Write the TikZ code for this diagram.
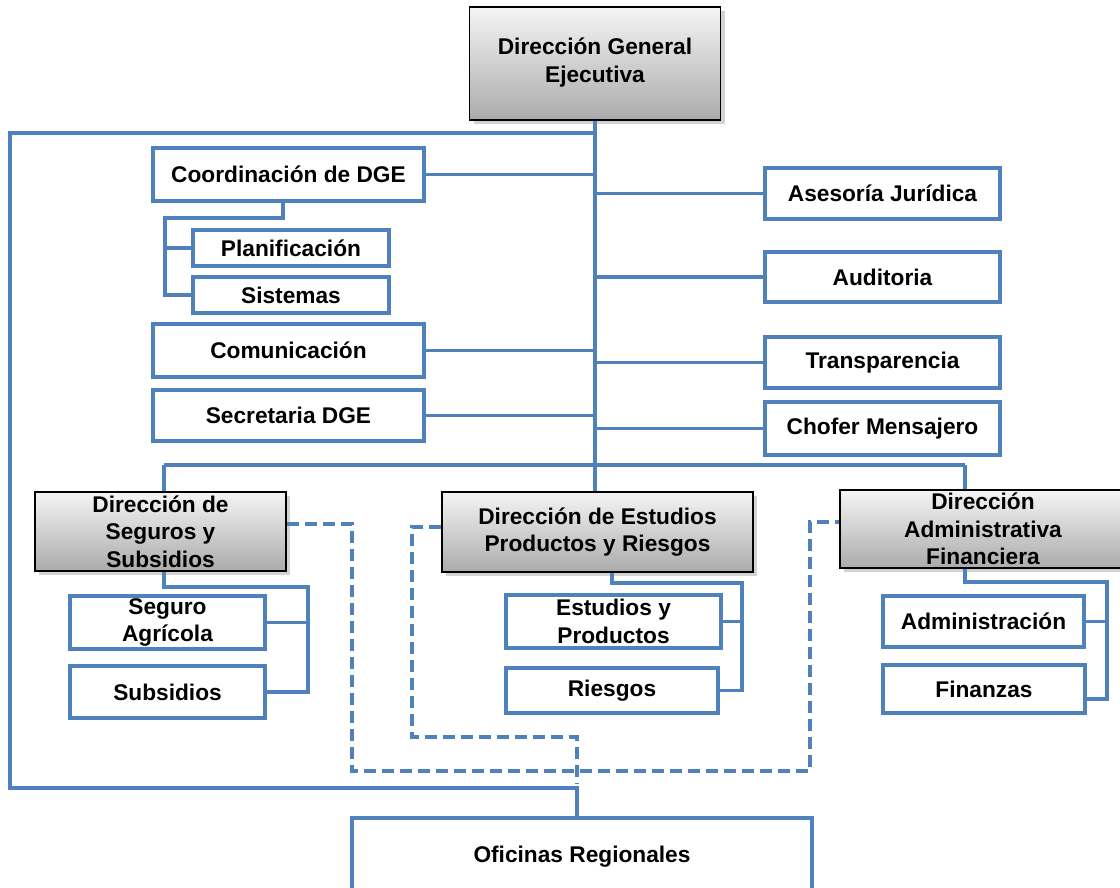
\documentclass[tikz,border=0pt]{standalone}
\usepackage{fontspec}
\setmainfont{Liberation Sans}
\usetikzlibrary{shadows}
\definecolor{oblue}{HTML}{4F81BD}
\tikzset{
  box/.style={draw=oblue, line width=4pt, fill=white, inner sep=0pt, align=center,
    font=\bfseries\fontsize{22.7}{27.5}\selectfont},
  graybox/.style={draw=black, line width=1.5pt, top color=black!4, bottom color=black!33,
    inner sep=0pt, align=center, font=\bfseries\fontsize{22.7}{27.5}\selectfont,
    drop shadow={shadow xshift=4pt, shadow yshift=-4pt, opacity=0.35}},
  conn/.style={draw=oblue, line width=3.5pt},
  dconn/.style={draw=oblue, line width=3.5pt, dash pattern=on 12pt off 6pt},
}
\begin{document}
\begin{tikzpicture}[x=1pt,y=-1pt]
\useasboundingbox (0,0) rectangle (1120,888);
% boxes
\node[graybox, minimum width=251pt, minimum height=113pt] (dge) at (595,63.5) {\raisebox{-3pt}{\begin{tabular}{@{}c@{}}Dirección General\\[0.5pt]Ejecutiva\end{tabular}}};
\node[box, minimum width=271pt, minimum height=53pt] (coord) at (288.5,174.5) {Coordinación de DGE};
\node[box, minimum width=196pt, minimum height=36pt] (plan) at (291,248) {Planificación};
\node[box, minimum width=196pt, minimum height=36pt] (sist) at (291,295) {Sistemas};
\node[box, minimum width=271pt, minimum height=53pt] (comu) at (288.5,350.5) {Comunicación};
\node[box, minimum width=271pt, minimum height=51pt] (secr) at (288.5,415.5) {Secretaria DGE};
\node[box, minimum width=235pt, minimum height=51pt] (ases) at (882.5,193.5) {Asesoría Jurídica};
\node[box, minimum width=235pt, minimum height=50pt] (audi) at (882.5,277) {Auditoria};
\node[box, minimum width=235pt, minimum height=51pt] (tran) at (882.5,362.5) {Transparencia};
\node[box, minimum width=235pt, minimum height=53pt] (chof) at (882.5,428.5) {Chofer Mensajero};
\node[graybox, minimum width=251pt, minimum height=79pt] (dss) at (160.5,531.5) {Dirección de\\Seguros y\\Subsidios};
\node[graybox, minimum width=311pt, minimum height=80pt] (dep) at (597.5,532) {Dirección de Estudios\\Productos y Riesgos};
\node[graybox, minimum width=286pt, minimum height=78pt] (daf) at (983,529) {Dirección\\Administrativa\\Financiera};
\node[box, minimum width=195pt, minimum height=53pt] (sagr) at (167.5,622.5) {Seguro\\Agrícola};
\node[box, minimum width=195pt, minimum height=52pt] (subs) at (167.5,692) {Subsidios};
\node[box, minimum width=215pt, minimum height=53pt] (eyp) at (613.5,621.5) {Estudios y\\Productos};
\node[box, minimum width=212pt, minimum height=45pt] (ries) at (612,690.5) {Riesgos};
\node[box, minimum width=201pt, minimum height=51pt] (admi) at (983.5,621.5) {Administración};
\node[box, minimum width=202pt, minimum height=48pt] (fina) at (984,689) {Finanzas};
\node[box, minimum width=460pt, minimum height=78pt] (ofic) at (582,857) {Oficinas Regionales};
% coordinates
\coordinate (tTop) at (595,120);
\coordinate (tLoop) at (595,133);
\coordinate (lA) at (10,133);
\coordinate (lB) at (10,788);
\coordinate (lC) at (577,788);
\coordinate (busL) at (164,465);
\coordinate (busR) at (965,465);
% trunk
\draw[conn] (dge.south -| tTop) -- (dge.south |- dep.north);
% outer loop to regional offices
\draw[conn] (tLoop) -- (lA) -- (lB) -- (lC) -- (lC |- ofic.north);
% left staff
\draw[conn] (coord.east) -- (coord.east -| tTop);
\draw[conn] (comu.east) -- (comu.east -| tTop);
\draw[conn] (secr.east) -- (secr.east -| tTop);
% right staff
\draw[conn] (ases.west -| tTop) -- (ases.west);
\draw[conn] (audi.west -| tTop) -- (audi.west);
\draw[conn] (tran.west -| tTop) -- (tran.west);
\draw[conn] (chof.west -| tTop) -- (chof.west);
% coordination subunits
\coordinate (cA) at (283,201);
\coordinate (cB) at (283,218);
\coordinate (cC) at (165,218);
\draw[conn] (cA) -- (cB) -- (cC) |- (sist.west);
\draw[conn] (cC |- plan.west) -- (plan.west);
% bus to directorates
\draw[conn] (busL) -- (busR);
\draw[conn] (busL) -- (busL |- dss.north);
\draw[conn] (busR) -- (busR |- daf.north);
% DSS subunits
\coordinate (sA) at (164,587);
\coordinate (sB) at (308,587);
\draw[conn] (sA |- dss.south) -- (sA) -- (sB) |- (subs.east);
\draw[conn] (sB |- sagr.east) -- (sagr.east);
% DEP subunits
\coordinate (eA) at (612,583);
\coordinate (eB) at (742,583);
\draw[conn] (eA |- dep.south) -- (eA) -- (eB) |- (ries.east);
\draw[conn] (eB |- eyp.east) -- (eyp.east);
% DAF subunits
\coordinate (aA) at (965,582);
\coordinate (aB) at (1107,582);
\coordinate (aC) at (1107,699);
\draw[conn] (aA |- daf.south) -- (aA) -- (aB) -- (aC) -- (fina.east |- aC);
\draw[conn] (aB |- admi.east) -- (admi.east);
% dashed links
\coordinate (d1) at (352,524);
\coordinate (d2) at (352,771);
\coordinate (d3) at (810,771);
\coordinate (d4) at (810,522);
\draw[dconn] (dss.east |- d1) -- (d1) -- (d2) -- (d3) -- (d4) -- (daf.west |- d4);
\coordinate (e1) at (412,527);
\coordinate (e2) at (412,737);
\coordinate (e3) at (577,737);
\coordinate (e4) at (577,783);
\draw[dconn] (dep.west |- e1) -- (e1) -- (e2) -- (e3) -- (e4);
\end{tikzpicture}
\end{document}
